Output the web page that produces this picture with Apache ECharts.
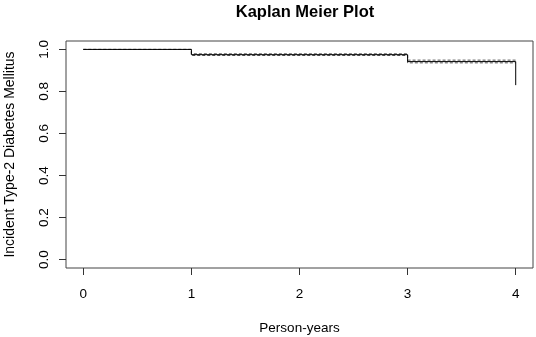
<!DOCTYPE html>
<html>
<head>
<meta charset="utf-8">
<script src="https://cdn.jsdelivr.net/npm/echarts@6/dist/echarts.min.js"></script>
<style>
  html, body { margin: 0; padding: 0; background: #fff; }
  #main { width: 536px; height: 337px; }
</style>
</head>
<body>
<div id="main"></div>
<script>
// step times and Kaplan-Meier estimate
const times = [0, 1, 3, 4];
const survival = [1, 0.975, 0.942, 0.83];
const upperCI = [1, 0.979, 0.949, 0.949];
const lowerCI = [1, 0.971, 0.936, 0.936];
const xTicks = [0, 1, 2, 3, 4];
const yTicks = [0, 0.2, 0.4, 0.6, 0.8, 1.0];

const pairs = (ys) => times.map((t, i) => [t, ys[i]]);
const font = 'Liberation Sans, Arial, sans-serif';

const myChart = echarts.init(document.getElementById('main'));
myChart.setOption({
  animation: false,
  title: {
    text: 'Kaplan Meier Plot',
    left: 300, top: -1, textAlign: 'center',
    textStyle: {fontFamily: font, fontSize: 16.5, fontWeight: 'bold', color: '#000'}
  },
  grid: {
    left: 66, right: 3, top: 41, bottom: 69,
    outerBoundsMode: 'none',
    show: true, borderColor: '#444', borderWidth: 1, backgroundColor: 'transparent'
  },
  xAxis: {
    type: 'value', min: -0.16, max: 4.16,
    name: 'Person-years', nameLocation: 'middle', nameGap: 53,
    nameTextStyle: {fontFamily: font, fontSize: 13.5, color: '#000'},
    splitLine: {show: false},
    axisLine: {show: false, onZero: false},
    axisTick: {show: true, length: 7, customValues: xTicks, lineStyle: {color: '#333'}},
    axisLabel: {customValues: xTicks, margin: 19, fontFamily: font, fontSize: 13.5, color: '#000',
      formatter: v => String(v)}
  },
  yAxis: {
    type: 'value', min: -0.04, max: 1.04,
    name: 'Incident Type-2 Diabetes Mellitus', nameLocation: 'middle', nameGap: 49,
    nameTextStyle: {fontFamily: font, fontSize: 14, color: '#000'},
    splitLine: {show: false},
    axisLine: {show: false, onZero: false},
    axisTick: {show: true, length: 7, customValues: yTicks, lineStyle: {color: '#333'}},
    axisLabel: {customValues: yTicks, rotate: 90, margin: 15, fontFamily: font, fontSize: 13.5, color: '#000',
      formatter: v => v.toFixed(1)}
  },
  series: [
    {
      type: 'line', step: 'end', symbol: 'none', data: pairs(upperCI),
      lineStyle: {color: '#555', width: 1, type: [3, 2]}
    },
    {
      type: 'line', step: 'end', symbol: 'none', data: pairs(lowerCI),
      lineStyle: {color: '#555', width: 1, type: [3, 2]}
    },
    {
      type: 'line', step: 'end', symbol: 'none', data: pairs(survival),
      lineStyle: {color: '#000', width: 1}
    }
  ]
});
</script>
</body>
</html>
